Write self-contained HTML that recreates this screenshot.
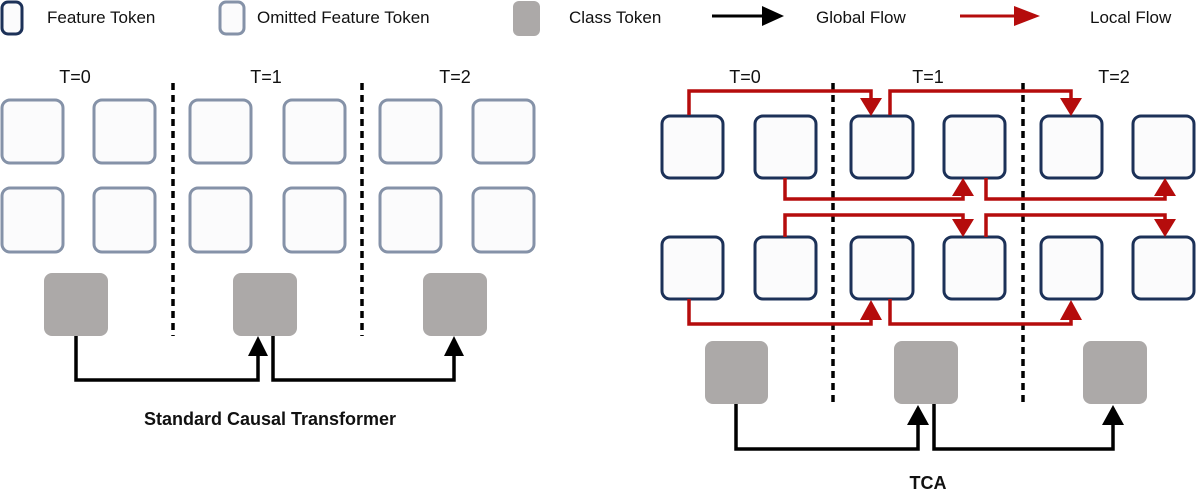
<!DOCTYPE html>
<html><head><meta charset="utf-8"><style>
html,body{margin:0;padding:0;background:#fff;width:1196px;height:502px;overflow:hidden}
svg{display:block}
text{font-family:"Liberation Sans",sans-serif;fill:#111}
</style></head><body>
<svg width="1196" height="502" viewBox="0 0 1196 502" xmlns="http://www.w3.org/2000/svg">
<!-- legend -->
<rect x="2" y="2" width="20" height="32" rx="6" fill="#fbfbfc" stroke="#1c3158" stroke-width="3"/>
<text x="47" y="23" font-size="17">Feature Token</text>
<rect x="220" y="2" width="24" height="32" rx="6" fill="#fbfbfc" stroke="#8592a8" stroke-width="3"/>
<text x="257" y="23" font-size="17">Omitted Feature Token</text>
<rect x="513" y="1" width="27" height="35" rx="6" fill="#aca9a8"/>
<text x="569" y="23" font-size="17">Class Token</text>
<line x1="712" y1="16" x2="765" y2="16" stroke="#000" stroke-width="3"/>
<path d="M762,6 L784,16 L762,26z" fill="#000"/>
<text x="816" y="23" font-size="17">Global Flow</text>
<line x1="960" y1="16" x2="1018" y2="16" stroke="#b50c0c" stroke-width="3"/>
<path d="M1014,6 L1040,16 L1014,26z" fill="#b50c0c"/>
<text x="1090" y="23" font-size="17">Local Flow</text>

<g font-size="18" text-anchor="middle">
<text x="75" y="83">T=0</text><text x="266" y="83">T=1</text><text x="455" y="83">T=2</text>
<text x="745" y="83">T=0</text><text x="928" y="83">T=1</text><text x="1114" y="83">T=2</text>
</g>
<g stroke="#000" stroke-width="3.5" stroke-dasharray="7,5">
<line x1="173" y1="83" x2="173" y2="336"/>
<line x1="362" y1="83" x2="362" y2="336"/>
<line x1="833" y1="83" x2="833" y2="404"/>
<line x1="1023" y1="83" x2="1023" y2="404"/>
</g>
<!-- left boxes -->
<g fill="#fbfbfc" stroke="#8592a8" stroke-width="3">
<rect x="2" y="100" width="61" height="63" rx="8"/><rect x="94" y="100" width="61" height="63" rx="8"/>
<rect x="190" y="100" width="61" height="63" rx="8"/><rect x="284" y="100" width="61" height="63" rx="8"/>
<rect x="380" y="100" width="61" height="63" rx="8"/><rect x="473" y="100" width="61" height="63" rx="8"/>
<rect x="2" y="188" width="61" height="64" rx="8"/><rect x="94" y="188" width="61" height="64" rx="8"/>
<rect x="190" y="188" width="61" height="64" rx="8"/><rect x="284" y="188" width="61" height="64" rx="8"/>
<rect x="380" y="188" width="61" height="64" rx="8"/><rect x="473" y="188" width="61" height="64" rx="8"/>
</g>
<g fill="#aca9a8">
<rect x="44" y="273" width="64" height="63" rx="8"/><rect x="233" y="273" width="64" height="63" rx="8"/><rect x="423" y="273" width="64" height="63" rx="8"/>
<rect x="705" y="341" width="63" height="63" rx="8"/><rect x="894" y="341" width="64" height="63" rx="8"/><rect x="1083" y="341" width="64" height="63" rx="8"/>
</g>
<g fill="none" stroke="#000" stroke-width="3.5">
<polyline points="76,336 76,380 258,380 258,354"/>
<polyline points="273,336 273,380 454,380 454,354"/>
<polyline points="736,404 736,449 918,449 918,423"/>
<polyline points="934,404 934,449 1113,449 1113,423"/>
</g>
<g fill="#000">
<path d="M248,356 L258,336 L268,356z"/><path d="M444,356 L454,336 L464,356z"/>
<path d="M907,425 L918,405 L929,425z"/><path d="M1102,425 L1113,405 L1124,425z"/>
</g>
<text x="270" y="425" font-size="18" font-weight="bold" text-anchor="middle">Standard Causal Transformer</text>
<text x="928" y="489" font-size="18" font-weight="bold" text-anchor="middle">TCA</text>

<!-- right boxes -->
<g fill="#fbfbfc" stroke="#1c3158" stroke-width="3">
<rect x="662" y="116" width="61" height="62" rx="8"/><rect x="755" y="116" width="61" height="62" rx="8"/>
<rect x="851" y="116" width="62" height="62" rx="8"/><rect x="944" y="116" width="61" height="62" rx="8"/>
<rect x="1041" y="116" width="61" height="62" rx="8"/><rect x="1133" y="116" width="61" height="62" rx="8"/>
<rect x="662" y="237" width="61" height="62" rx="8"/><rect x="755" y="237" width="61" height="62" rx="8"/>
<rect x="851" y="237" width="62" height="62" rx="8"/><rect x="944" y="237" width="61" height="62" rx="8"/>
<rect x="1041" y="237" width="61" height="62" rx="8"/><rect x="1133" y="237" width="61" height="62" rx="8"/>
</g>
<g fill="none" stroke="#b50c0c" stroke-width="3.5">
<polyline points="689,115 689,91 871,91 871,100"/>
<polyline points="890,115 890,91 1071,91 1071,100"/>
<polyline points="785,178 785,199 963,199 963,192"/>
<polyline points="986,178 986,199 1165,199 1165,192"/>
<polyline points="785,237 785,215 963,215 963,222"/>
<polyline points="986,237 986,215 1165,215 1165,222"/>
<polyline points="689,299 689,324 871,324 871,317"/>
<polyline points="890,299 890,324 1071,324 1071,317"/>
</g>
<g fill="#b50c0c">
<path d="M860,98 L882,98 L871,116z"/><path d="M1060,98 L1082,98 L1071,116z"/>
<path d="M952,196 L974,196 L963,178z"/><path d="M1154,196 L1176,196 L1165,178z"/>
<path d="M952,219 L974,219 L963,237z"/><path d="M1154,219 L1176,219 L1165,237z"/>
<path d="M860,320 L882,320 L871,300z"/><path d="M1060,320 L1082,320 L1071,300z"/>
</g>
</svg>
</body></html>
